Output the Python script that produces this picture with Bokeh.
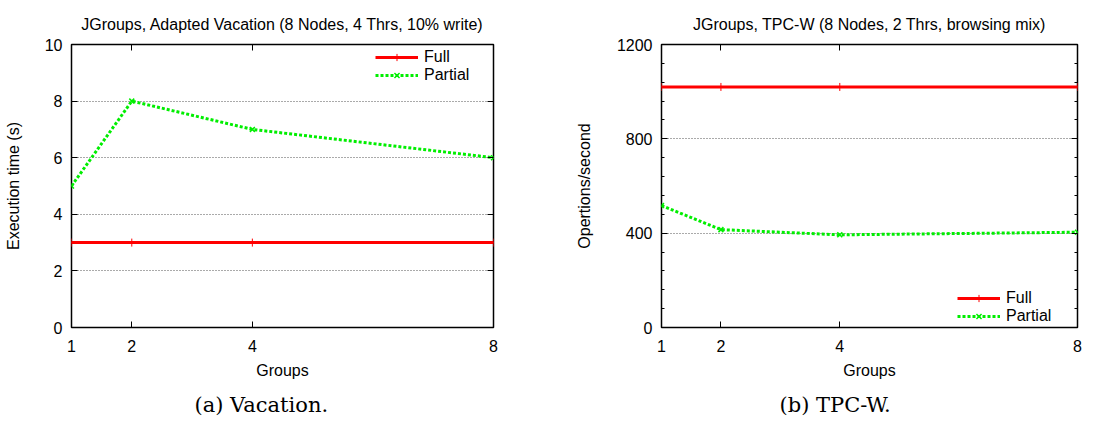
from bokeh.plotting import figure
from bokeh.models import (Range1d, FixedTicker, LinearAxis, Legend, LegendItem,
                          Title, CustomJSTickFormatter)
from bokeh.layouts import row
from bokeh.embed import file_html
from bokeh.resources import INLINE

# ---- data ----
groups = [1, 2, 4, 8]
group_ticks = [1, 2, 4, 8]

vac_full = [3, 3, 3, 3]
vac_partial = [5, 8, 7, 6]
vac_yticks = [0, 2, 4, 6, 8, 10]

tpcw_full = [1020, 1020, 1020, 1020]
tpcw_partial = [517, 415, 393, 404]
tpcw_yticks = [0, 400, 800, 1200]
tpcw_minor = [80 * k for k in range(16)]

series_labels = ["Full", "Partial"]

FONT = "Liberation Sans"
FS = "16px"
RED = "#ff0000"
GREEN = "#00ee00"


def style_axis(ax, ticker, show_labels=True):
    ax.ticker = ticker
    ax.axis_line_color = None
    ax.major_tick_in = 6
    ax.major_tick_out = 0
    ax.minor_tick_in = 3
    ax.minor_tick_out = 0
    ax.major_tick_line_color = "black"
    ax.minor_tick_line_color = "black"
    ax.major_label_text_font = FONT
    ax.major_label_text_font_size = FS
    ax.major_label_text_color = "black"
    ax.axis_label_text_font = FONT
    ax.axis_label_text_font_size = FS
    ax.axis_label_text_font_style = "normal"
    ax.axis_label_text_color = "black"
    if not show_labels:
        ax.major_label_text_font_size = "0px"
        ax.major_label_standoff = 0
        ax.formatter = CustomJSTickFormatter(code="return ''")


def make_plot(title, ylabel, caption, full, partial, yticks, yminor, ymax,
              width, bl, br, cap_offset, leg_loc, ylabel_standoff):
    p = figure(width=width, height=425, output_backend="svg",
               toolbar_location=None, x_range=Range1d(1, 8),
               y_range=Range1d(0, ymax),
               min_border_left=bl, min_border_right=br,
               min_border_top=44, min_border_bottom=98)
    p.title.text = title
    p.title.align = "center"
    p.title.vertical_align = "top"
    p.title.text_line_height = 0.7
    p.title.text_font = FONT
    p.title.text_font_size = FS
    p.title.text_font_style = "normal"
    p.title.text_color = "black"
    p.title.standoff = 20

    p.outline_line_color = "black"
    p.outline_line_width = 1.5
    p.outline_line_alpha = 1.0
    p.background_fill_color = "white"
    p.border_fill_color = "white"

    xt = FixedTicker(ticks=group_ticks, minor_ticks=[])
    yt = FixedTicker(ticks=yticks, minor_ticks=yminor)

    style_axis(p.xaxis[0], xt)
    style_axis(p.yaxis[0], yt)
    p.xaxis[0].axis_label = "Groups"
    p.xaxis[0].major_label_standoff = 12
    p.xaxis[0].axis_label_standoff = 7
    p.yaxis[0].axis_label = ylabel
    p.yaxis[0].major_label_standoff = 9
    p.yaxis[0].axis_label_standoff = ylabel_standoff

    ax_r = LinearAxis()
    style_axis(ax_r, FixedTicker(ticks=yticks, minor_ticks=yminor), show_labels=False)
    p.add_layout(ax_r, "right")
    ax_t = LinearAxis()
    style_axis(ax_t, FixedTicker(ticks=group_ticks, minor_ticks=[]), show_labels=False)
    p.add_layout(ax_t, "above")

    p.xgrid.visible = False
    p.ygrid.ticker = FixedTicker(ticks=yticks)
    p.ygrid.grid_line_color = "#555555"
    p.ygrid.grid_line_dash = "1 2"
    p.ygrid.grid_line_width = 1

    lf = p.line(groups, full, line_color=RED, line_width=3)
    mf = p.scatter(groups, full, marker="cross", size=8, line_color=RED, line_width=1)
    lp = p.line(groups, partial, line_color=GREEN, line_width=3, line_dash="3 2")
    mp = p.scatter(groups, partial, marker="x", size=7, line_color=GREEN, line_width=1.5)

    legend = Legend(items=[LegendItem(label=series_labels[0], renderers=[lf, mf]),
                           LegendItem(label=series_labels[1], renderers=[lp, mp])],
                    location=leg_loc)
    legend.background_fill_alpha = 0
    legend.border_line_color = None
    legend.padding = 0
    legend.spacing = 0
    legend.margin = 0
    legend.glyph_width = 43
    legend.glyph_height = 18
    legend.label_height = 18
    legend.label_standoff = 6
    legend.label_text_font = FONT
    legend.label_text_font_size = FS
    legend.label_text_color = "black"
    p.add_layout(legend, "center")

    cap = Title(text=caption, align="left", offset=cap_offset,
                text_font="DejaVu Serif", text_font_size="21px",
                text_font_style="normal", text_color="black", standoff=18)
    p.add_layout(cap, "below")
    return p


p1 = make_plot("JGroups, Adapted Vacation (8 Nodes, 4 Thrs, 10% write)",
               "Execution time (s)", "(a) Vacation.", vac_full, vac_partial,
               vac_yticks, [], 10, 551, 71, 58, 123, (304, 243), 20)
p2 = make_plot("JGroups, TPC-W (8 Nodes, 2 Thrs, browsing mix)",
               "Opertions/second", "(b) TPC-W.", tpcw_full, tpcw_partial,
               tpcw_yticks, tpcw_minor, 1200, 552, 110, 26, 118, (296, 2), 21)

layout = row(p1, p2)
open("out.html", "w").write(file_html(layout, INLINE))
